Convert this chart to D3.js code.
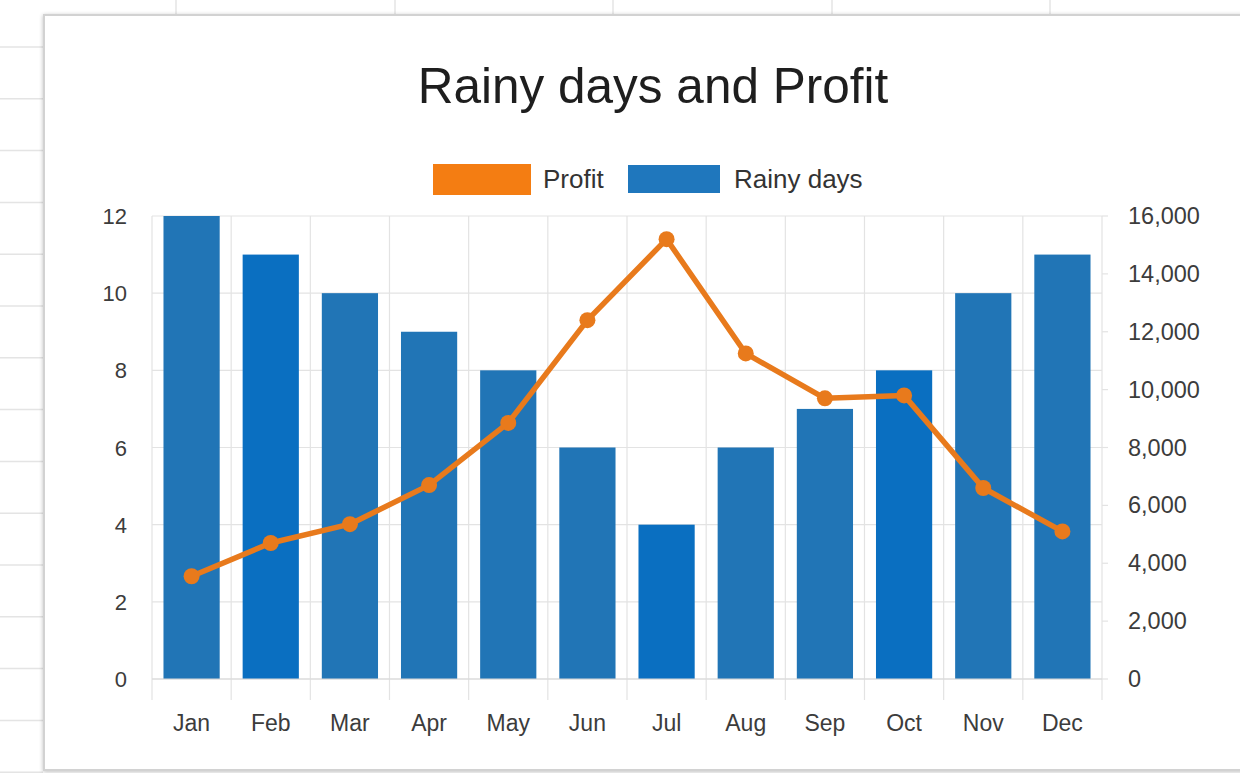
<!DOCTYPE html>
<html>
<head>
<meta charset="utf-8">
<script src="https://cdn.jsdelivr.net/npm/d3@7"></script>
<style>
  html, body { margin: 0; padding: 0; background: #ffffff; }
  svg { display: block; }
  text { font-family: "Liberation Sans", Arial, sans-serif; }
</style>
</head>
<body>
<svg id="chart" width="1240" height="773"></svg>
<script>
// Monthly figures
const months = ["Jan", "Feb", "Mar", "Apr", "May", "Jun", "Jul", "Aug", "Sep", "Oct", "Nov", "Dec"];
const rainyDays = [12, 11, 10, 9, 8, 6, 4, 6, 7, 8, 10, 11];
const profit = [3550, 4700, 5350, 6700, 8850, 12400, 15200, 11250, 9700, 9800, 6600, 5100];
const leftTicks = [0, 2, 4, 6, 8, 10, 12];
const rightTicks = [0, 2000, 4000, 6000, 8000, 10000, 12000, 14000, 16000];

const W = 1240, H = 773;
const svg = d3.select("#chart");

// Spreadsheet behind the chart card
const sheet = svg.append("g");
sheet.append("rect").attr("width", W).attr("height", H).attr("fill", "#ffffff");
d3.range(47, H, 51.8).forEach(y => {
  sheet.append("line").attr("x1", 0).attr("x2", 43).attr("y1", y).attr("y2", y)
    .attr("stroke", "#e4e4e4").attr("stroke-width", 1.5);
});
[176, 395, 613, 832, 1050].forEach(x => {
  sheet.append("line").attr("x1", x).attr("x2", x).attr("y1", 0).attr("y2", 15)
    .attr("stroke", "#e4e4e4").attr("stroke-width", 1.5);
});

// Chart card
const defs = svg.append("defs");
const shadow = defs.append("filter").attr("id", "cardShadow").attr("x", "-5%").attr("y", "-5%").attr("width", "110%").attr("height", "110%");
shadow.append("feGaussianBlur").attr("in", "SourceAlpha").attr("stdDeviation", 2).attr("result", "b");
shadow.append("feOffset").attr("in", "b").attr("dx", 0).attr("dy", 1).attr("result", "o");
shadow.append("feComponentTransfer").attr("in", "o").attr("result", "s")
  .append("feFuncA").attr("type", "linear").attr("slope", 0.25);
const mrg = shadow.append("feMerge");
mrg.append("feMergeNode").attr("in", "s");
mrg.append("feMergeNode").attr("in", "SourceGraphic");

svg.append("rect")
  .attr("x", 44).attr("y", 15).attr("width", W - 40).attr("height", 755)
  .attr("fill", "#ffffff").attr("stroke", "#d2d2d2").attr("stroke-width", 2)
  .attr("filter", "url(#cardShadow)");

// Plot geometry
const plot = { left: 152, right: 1102, top: 216, bottom: 679 };

const x = d3.scaleBand().domain(months).range([plot.left, plot.right])
  .paddingInner(0.29).paddingOuter(0.145);
const yL = d3.scaleLinear().domain([0, 12]).range([plot.bottom, plot.top]);
const yR = d3.scaleLinear().domain([0, 16000]).range([plot.bottom, plot.top]);

const g = svg.append("g");

// Horizontal gridlines
g.append("g").selectAll("line").data(leftTicks).join("line")
  .attr("x1", plot.left).attr("x2", plot.right)
  .attr("y1", d => yL(d)).attr("y2", d => yL(d))
  .attr("stroke", "#e3e3e3").attr("stroke-width", 1.2);

// Category boundary gridlines and ticks below the baseline
const bounds = d3.range(months.length + 1).map(i => plot.left + i * x.step());
g.append("g").selectAll("line").data(bounds).join("line")
  .attr("x1", d => d).attr("x2", d => d)
  .attr("y1", plot.top).attr("y2", plot.bottom + 21)
  .attr("stroke", "#e3e3e3").attr("stroke-width", 1.2);

// Right axis tick marks
g.append("g").selectAll("line").data(rightTicks).join("line")
  .attr("x1", plot.right).attr("x2", plot.right + 6)
  .attr("y1", d => yR(d)).attr("y2", d => yR(d))
  .attr("stroke", "#e3e3e3").attr("stroke-width", 1.2);

// Bars: rainy days on the left scale
const barShade = { Feb: "#0a6fc1", Jul: "#0a6fc1", Oct: "#0a6fc1" };
g.append("g").selectAll("rect").data(months).join("rect")
  .attr("x", d => x(d))
  .attr("width", x.bandwidth())
  .attr("y", (d, i) => yL(rainyDays[i]))
  .attr("height", (d, i) => yL(0) - yL(rainyDays[i]))
  .attr("fill", d => barShade[d] || "#2175b6");

// Baseline
g.append("line").attr("x1", plot.left).attr("x2", plot.right)
  .attr("y1", plot.bottom).attr("y2", plot.bottom)
  .attr("stroke", "#d8d8d8").attr("stroke-width", 1.2);

// Profit line on the right scale
const lineColor = "#e87a1c";
const line = d3.line()
  .x((d, i) => x(months[i]) + x.bandwidth() / 2)
  .y(d => yR(d));
g.append("path").datum(profit)
  .attr("d", line)
  .attr("fill", "none").attr("stroke", lineColor)
  .attr("stroke-width", 5.5).attr("stroke-linejoin", "round");
g.append("g").selectAll("circle").data(profit).join("circle")
  .attr("cx", (d, i) => x(months[i]) + x.bandwidth() / 2)
  .attr("cy", d => yR(d))
  .attr("r", 8)
  .attr("fill", lineColor);

// Axis labels
const labelColor = "#3c3c3c";
g.append("g").selectAll("text").data(leftTicks).join("text")
  .attr("x", 127).attr("y", d => yL(d) + 8)
  .attr("text-anchor", "end")
  .attr("font-size", 22).attr("fill", labelColor)
  .text(d => d);

const fmt = d3.format(",");
g.append("g").selectAll("text").data(rightTicks).join("text")
  .attr("x", 1128).attr("y", d => yR(d) + 8)
  .attr("text-anchor", "start")
  .attr("font-size", 23.5).attr("fill", labelColor)
  .text(d => fmt(d));

g.append("g").selectAll("text").data(months).join("text")
  .attr("x", d => x(d) + x.bandwidth() / 2)
  .attr("y", 731)
  .attr("text-anchor", "middle")
  .attr("font-size", 23).attr("fill", labelColor)
  .text(d => d);

// Title
svg.append("text")
  .attr("x", 653).attr("y", 103)
  .attr("text-anchor", "middle")
  .attr("font-size", 49.5).attr("fill", "#1e1e1e")
  .text("Rainy days and Profit");

// Legend
const legend = svg.append("g");
legend.append("rect").attr("x", 433).attr("y", 164).attr("width", 98).attr("height", 31).attr("fill", "#f47d12");
legend.append("text").attr("x", 543).attr("y", 188).attr("font-size", 26).attr("fill", "#333333").text("Profit");
legend.append("rect").attr("x", 628).attr("y", 165).attr("width", 92).attr("height", 28).attr("fill", "#1f77bd");
legend.append("text").attr("x", 734).attr("y", 188).attr("font-size", 26).attr("fill", "#333333").text("Rainy days");
</script>
</body>
</html>
